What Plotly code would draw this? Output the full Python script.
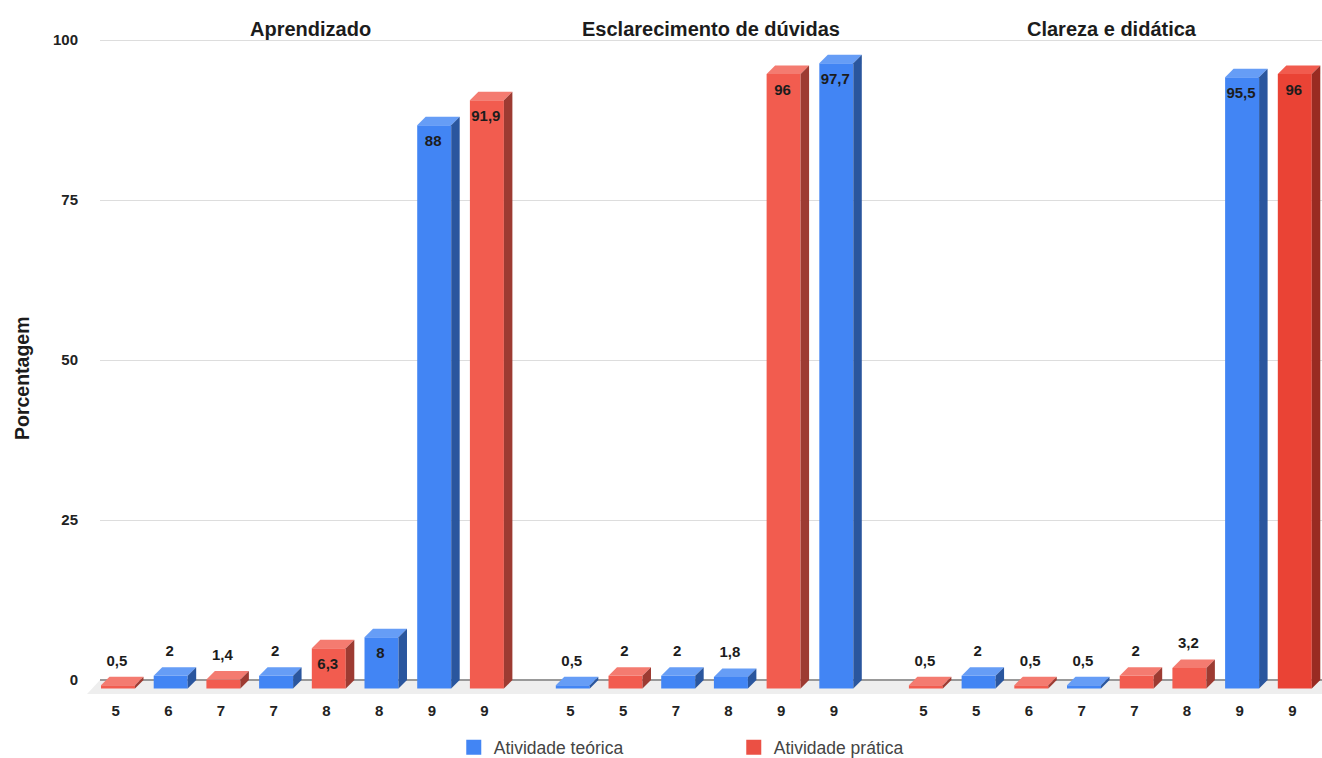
import plotly.graph_objects as go

FONT = "Liberation Sans"

# Position of each bar along the shared axis, in bar slots
slots_g1 = [0, 1, 2, 3, 4, 5, 6, 7]
slots_g2 = [8.63, 9.63, 10.63, 11.63, 12.63, 13.63]
slots_g3 = [15.33, 16.33, 17.33, 18.33, 19.33, 20.33, 21.33, 22.33]

notas_g1 = ["5", "6", "7", "7", "8", "8", "9", "9"]
notas_g2 = ["5", "5", "7", "8", "9", "9"]
notas_g3 = ["5", "5", "6", "7", "7", "8", "9", "9"]

valores_g1 = [0.5, 2, 1.4, 2, 6.3, 8, 88, 91.9]
valores_g2 = [0.5, 2, 2, 1.8, 96, 97.7]
valores_g3 = [0.5, 2, 0.5, 0.5, 2, 3.2, 95.5, 96]

# Series per bar: T = Atividade teórica, P = Atividade prática
series_g1 = ["P", "T", "P", "T", "P", "T", "T", "P"]
series_g2 = ["T", "P", "T", "T", "P", "T"]
series_g3 = ["P", "T", "P", "T", "P", "P", "T", "P"]

titulos = ["Aprendizado", "Esclarecimento de dúvidas", "Clareza e didática"]
titulos_x = [3.65, 11.25, 18.87]

yticks = [0, 25, 50, 75, 100]

# Front, top and side shades of each colour
AZUL = ("#4285F4", "#669DF6", "#2A569E")
VERMELHO = ("#F25C4F", "#F47B70", "#9D3B32")
VERMELHO_FORTE = ("#EA4335", "#F15B4E", "#992B22")

BAR_W = 0.645
DX = 0.161   # horizontal depth of the bars, in slots
DY = 1.33    # vertical depth of the bars, in axis units

slots = slots_g1 + slots_g2 + slots_g3
notas = notas_g1 + notas_g2 + notas_g3
valores = valores_g1 + valores_g2 + valores_g3
series = series_g1 + series_g2 + series_g3


def paleta(i):
    if series[i] == "T":
        return AZUL
    return VERMELHO_FORTE if i == len(slots) - 1 else VERMELHO


fig = go.Figure()

# Front faces, one trace per series
for code in ("T", "P"):
    idx = [i for i in range(len(slots)) if series[i] == code]
    fig.add_trace(go.Bar(
        x=[slots[i] for i in idx],
        y=[valores[i] for i in idx],
        base=-DY,
        width=BAR_W,
        showlegend=False,
        marker=dict(color=[paleta(i)[0] for i in idx], line=dict(width=0)),
        hoverinfo="skip",
    ))

# Top and side faces give the bars their depth
for i, (s, v) in enumerate(zip(slots, valores)):
    esq, dir_ = s - BAR_W / 2, s + BAR_W / 2
    frente = v - DY
    fig.add_trace(go.Scatter(
        x=[esq, dir_, dir_ + DX, esq + DX, esq],
        y=[frente, frente, v, v, frente],
        mode="lines", line=dict(width=0), fill="toself",
        fillcolor=paleta(i)[1], showlegend=False, hoverinfo="skip",
    ))
    fig.add_trace(go.Scatter(
        x=[dir_, dir_ + DX, dir_ + DX, dir_, dir_],
        y=[-DY, 0, v, frente, -DY],
        mode="lines", line=dict(width=0), fill="toself",
        fillcolor=paleta(i)[2], showlegend=False, hoverinfo="skip",
    ))

# Value labels: above the short bars, inside the tall ones
fig.add_trace(go.Scatter(
    x=[s - 0.02 for s in slots],
    y=[v + 2.35 if v < 6 else v - 4 for v in valores],
    text=[f"{v:g}".replace(".", ",") for v in valores],
    mode="text", textposition="middle center",
    textfont=dict(family=FONT, size=15, color="#1c1c1c", weight="bold"),
    showlegend=False, hoverinfo="skip", cliponaxis=False,
))

# Legend keys with a larger square than the default bar swatch
for nome, cor in (("Atividade teórica", AZUL[0]), ("Atividade prática", "#EB5044")):
    fig.add_trace(go.Scatter(
        x=[None], y=[None], mode="markers", name=nome,
        marker=dict(symbol="square", size=15, color=cor),
    ))

for titulo, x in zip(titulos, titulos_x):
    fig.add_annotation(
        x=x, y=1, xref="x", yref="paper", yanchor="bottom", yshift=-4,
        text=f"<b>{titulo}</b>", showarrow=False,
        font=dict(family=FONT, size=20, color="#1c1c1c"),
    )

# Axis title sits a little below the middle of the plot area
fig.add_annotation(
    x=-0.0638, y=0.4864, xref="paper", yref="paper",
    xanchor="center", yanchor="middle", textangle=-90,
    text="<b>Porcentagem</b>", showarrow=False,
    font=dict(family=FONT, size=19.5, color="#1c1c1c"),
)

# Floor of the 3D plot, reaching past the left edge of the plot area
fig.add_shape(
    type="path", xref="paper", yref="paper", layer="below",
    path="M -0.0106 0.0091 L 0 0.0302 L 1 0.0302 L 1 0.0091 Z",
    fillcolor="#EEEEEE", line=dict(width=0),
)

fig.update_layout(
    width=1322, height=758,
    margin=dict(l=100, r=0, t=38, b=58, autoexpand=False),
    paper_bgcolor="white", plot_bgcolor="rgba(0,0,0,0)",
    barmode="overlay",
    font=dict(family=FONT, color="#222222"),
    legend=dict(
        orientation="h", x=0.2895, xanchor="left", y=-0.0445, yanchor="top",
        entrywidth=235, entrywidthmode="pixels", itemwidth=30,
        font=dict(family=FONT, size=17.5, color="#444444"),
        bgcolor="rgba(0,0,0,0)",
    ),
    xaxis=dict(
        range=[-0.3416, 22.846],
        tickmode="array",
        tickvals=[s - 0.045 for s in slots],
        ticktext=notas,
        tickfont=dict(family=FONT, size=15, color="#222222", weight="bold"),
        showgrid=False, zeroline=False, showline=False, ticks="",
        ticklabelstandoff=0,
    ),
    yaxis=dict(
        range=[-3.125, 100.3125],
        tickmode="array", tickvals=yticks,
        tickfont=dict(family=FONT, size=15, color="#222222", weight="bold"),
        gridcolor="#DDDDDD", gridwidth=1,
        zeroline=True, zerolinecolor="#999999", zerolinewidth=2,
        showline=False, ticks="", ticklabelstandoff=21,
    ),
)

fig.write_html("out.html")
